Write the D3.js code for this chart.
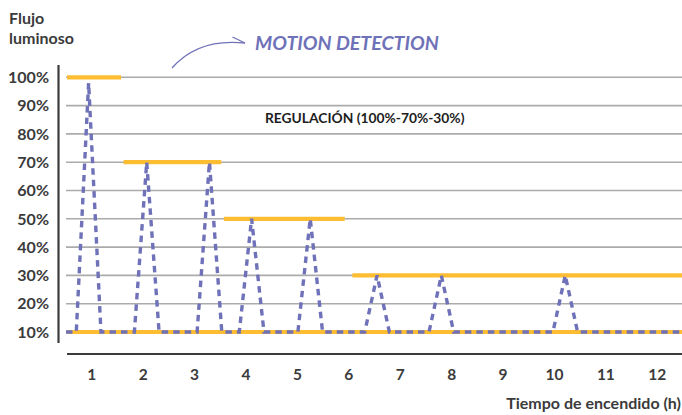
<!DOCTYPE html>
<html>
<head>
<meta charset="utf-8">
<script src="https://cdn.jsdelivr.net/npm/d3@7/dist/d3.min.js"></script>
<style>
  html, body { margin: 0; padding: 0; background: #fff; }
  svg { display: block; font-family: Lato, "Open Sans", sans-serif; }
</style>
</head>
<body>
<svg id="chart" width="682" height="415"></svg>
<script>
// ---- data ----
const hourTicks = [1, 2, 3, 4, 5, 6, 7, 8, 9, 10, 11, 12];
const percentTicks = [10, 20, 30, 40, 50, 60, 70, 80, 90, 100];

// motion detection (dashed) line: hours and luminous flux %
const motionHours = [0.5, 0.70, 0.94, 1.18, 1.83, 2.07, 2.31, 3.05, 3.29, 3.53,
                     3.87, 4.11, 4.35, 5.01, 5.25, 5.49, 6.31, 6.55, 6.79,
                     7.56, 7.80, 8.04, 9.97, 10.21, 10.45, 12.5];
const motionValues = [10, 10, 98, 10, 10, 70, 10, 10, 70, 10,
                      10, 50, 10, 10, 50, 10, 10, 30, 10,
                      10, 30, 10, 10, 30, 10, 10];

// regulation (solid yellow) segments
const regLevels = [100, 70, 50, 30, 10];
const regStart  = [0.52, 1.62, 3.57, 6.07, 0.52];
const regEnd    = [1.57, 3.52, 5.92, 12.5, 12.5];

// ---- drawing ----
const svg = d3.select("#chart");
const x = d3.scaleLinear().domain([0.5, 12.5]).range([66, 683]);
const y = d3.scaleLinear().domain([10, 100]).range([332, 77.3]);

const purple = "#6f72b8";
const yellow = "#fcbd32";
const dark = "#3b3b3b";

// gridlines
svg.append("g").selectAll("line").data(percentTicks).join("line")
  .attr("x1", x(0.5)).attr("x2", 682)
  .attr("y1", d => y(d)).attr("y2", d => y(d))
  .attr("stroke", "#ababab").attr("stroke-width", 1.6);

// y axis line
svg.append("line").attr("x1", 58.5).attr("x2", 58.5).attr("y1", 65).attr("y2", 343)
  .attr("stroke", dark).attr("stroke-width", 2.2);
// x axis line
svg.append("line").attr("x1", 67).attr("x2", 682).attr("y1", 354).attr("y2", 354)
  .attr("stroke", dark).attr("stroke-width", 2.2);

// y tick labels
svg.append("g").selectAll("text").data(percentTicks).join("text")
  .attr("x", 49).attr("y", d => y(d)).attr("dy", "0.36em")
  .attr("text-anchor", "end")
  .attr("font-size", 16).attr("font-weight", 700).attr("fill", dark)
  .text(d => d + "%");

// x tick labels
svg.append("g").selectAll("text").data(hourTicks).join("text")
  .attr("x", d => x(d)).attr("y", 374).attr("dy", "0.36em")
  .attr("text-anchor", "middle")
  .attr("font-size", 15.5).attr("font-weight", 700).attr("fill", dark)
  .text(d => d);

// regulation segments
svg.append("g").selectAll("line").data(regLevels).join("line")
  .attr("x1", (d, i) => x(regStart[i])).attr("x2", (d, i) => x(regEnd[i]))
  .attr("y1", d => y(d)).attr("y2", d => y(d))
  .attr("stroke", yellow).attr("stroke-width", 4.2);

// motion detection dashed line
const pts = motionHours.map((h, i) => [h, motionValues[i]]);
svg.append("path")
  .attr("d", d3.line().x(d => x(d[0])).y(d => y(d[1]))(pts))
  .attr("fill", "none").attr("stroke", purple).attr("stroke-width", 3.4)
  .attr("stroke-dasharray", "6.5,5");

// titles
svg.append("text").attr("x", 9).attr("y", 23.5)
  .attr("font-size", 16).attr("font-weight", 700).attr("fill", dark).text("Flujo");
svg.append("text").attr("x", 9).attr("y", 43.5)
  .attr("font-size", 16).attr("font-weight", 700).attr("fill", dark).text("luminoso");

svg.append("text").attr("x", 681).attr("y", 409).attr("text-anchor", "end")
  .attr("font-size", 16).attr("font-weight", 700).attr("fill", dark)
  .text("Tiempo de encendido (h)");

svg.append("text").attr("x", 265).attr("y", 123)
  .attr("font-size", 13.8).attr("font-weight", 700).attr("fill", "#1e1e1e")
  .text("REGULACIÓN (100%-70%-30%)");

svg.append("text").attr("x", 255).attr("y", 50)
  .attr("font-size", 19.6).attr("font-weight", 700).attr("font-style", "italic")
  .attr("fill", purple).text("MOTION DETECTION");

// arrow
svg.append("path").attr("d", "M172,68 Q198,38 245,43")
  .attr("fill", "none").attr("stroke", purple).attr("stroke-width", 1.3);
svg.append("path").attr("d", "M232.5,37 L245,43")
  .attr("fill", "none").attr("stroke", purple).attr("stroke-width", 1.3);
</script>
</body>
</html>
